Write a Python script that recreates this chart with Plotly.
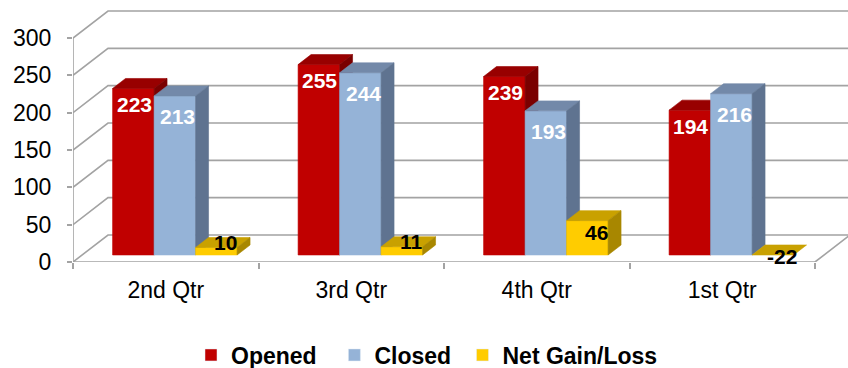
import plotly.graph_objects as go

# ---- data -------------------------------------------------------------
categories = ["2nd Qtr", "3rd Qtr", "4th Qtr", "1st Qtr"]
opened = [223, 255, 239, 194]
closed = [213, 244, 193, 216]
net_gain_loss = [10, 11, 46, -22]

series_names = ["Opened", "Closed", "Net Gain/Loss"]
value_ticks = [0, 50, 100, 150, 200, 250, 300]

# ---- styling ----------------------------------------------------------
FONT = "Arial, 'Liberation Sans', sans-serif"
GRID = "#a3a3a3"
front_colors = ["#C00000", "#95B3D7", "#FFCC00"]
top_colors = ["#980000", "#7389A9", "#C9A100"]
side_colors = ["#7A0000", "#5F7390", "#A88700"]
label_colors = ["white", "white", "black"]
label_drop = [16, 21, 17]          # px below the bar top for the value labels
label_nudge = [1, 3, 3]            # px to the right
legend_pad = [2, 1, 0]             # extra non-breaking spaces after each legend entry

# ---- geometry of the pseudo-3D box ------------------------------------
W, H = 848, 368
PLOT_L, PLOT_R = 73, 848          # plot area, pixels
PLOT_T, PLOT_B = 4, 262
CAT_PX = (815 - 73) / 4           # pixels per category
VAL_PX = (262 - 38) / 300         # pixels per value unit
X_MIN = -0.5
X_MAX = X_MIN + (PLOT_R - PLOT_L) / CAT_PX
Y_MAX = (PLOT_B - PLOT_T) / VAL_PX

DEPTH_DX = 35 / CAT_PX            # screen shift of the full box depth (x, data units)
DEPTH_DY = 27 / VAL_PX            # screen shift of the full box depth (y, data units)
BAR_D0, BAR_D1 = 0.26, 0.63       # depth slab occupied by the bars
BAR_W = 41.5 / CAT_PX             # bar width in category units


def proj(c, v, d):
    """Oblique projection of (category, value, depth) into the 2D axes."""
    return c + d * DEPTH_DX, v + d * DEPTH_DY


def add_poly(xs, ys, pts):
    for p in pts:
        xs.append(p[0])
        ys.append(p[1])
    xs.append(pts[0][0])
    ys.append(pts[0][1])
    xs.append(None)
    ys.append(None)


fig = go.Figure()

# ---- walls, floor and front axis line ---------------------------------
last_edge = len(categories) - 0.5
wx, wy = [], []
for v in value_ticks:
    for p in (proj(X_MIN, v, 0), proj(X_MIN, v, 1), proj(last_edge, v, 1)):
        wx.append(p[0])
        wy.append(p[1])
    wx.append(None)
    wy.append(None)
for p in (proj(X_MIN, 0, 0), proj(last_edge, 0, 0), proj(last_edge, 0, 1)):
    wx.append(p[0])
    wy.append(p[1])
wx.append(None)
wy.append(None)
for p in (proj(X_MIN, 0, 0), proj(X_MIN, value_ticks[-1], 0)):
    wx.append(p[0])
    wy.append(p[1])

fig.add_trace(go.Scatter(x=wx, y=wy, mode="lines", line=dict(color=GRID, width=1.6),
                         hoverinfo="skip", showlegend=False))

# ---- bars: front, top and side faces ----------------------------------
all_series = [opened, closed, net_gain_loss]
annotations = []
for s, values in enumerate(all_series):
    faces = {"front": ([], []), "top": ([], []), "side": ([], [])}
    for i, val in enumerate(values):
        xa = i + (s - 1.5) * BAR_W
        xb = xa + BAR_W
        vh = max(val, 0)
        if vh > 0:
            add_poly(*faces["front"], [proj(xa, 0, BAR_D0), proj(xb, 0, BAR_D0),
                                       proj(xb, vh, BAR_D0), proj(xa, vh, BAR_D0)])
            add_poly(*faces["side"], [proj(xb, 0, BAR_D0), proj(xb, 0, BAR_D1),
                                      proj(xb, vh, BAR_D1), proj(xb, vh, BAR_D0)])
        add_poly(*faces["top"], [proj(xa, vh, BAR_D0), proj(xb, vh, BAR_D0),
                                 proj(xb, vh, BAR_D1), proj(xa, vh, BAR_D1)])

        # value label: inside the top of tall bars, on the top face of short ones,
        # and just under the zero plane for negative values
        h_px = vh * VAL_PX
        if s < 2:
            lx, ly = proj(xa + BAR_W / 2, vh, BAR_D0)
            shift_y = -label_drop[s]
        else:
            lx, ly = proj(xa + BAR_W / 2, vh, (BAR_D0 + BAR_D1) / 2)
            shift_y = -min(label_drop[s], max(0, h_px - 10)) if val >= 0 else -7
        annotations.append(dict(
            x=lx, y=ly, xref="x", yref="y", text=f"<b>{val}</b>", showarrow=False,
            xshift=label_nudge[s], yshift=shift_y, xanchor="center", yanchor="middle",
            font=dict(family=FONT, size=21, color=label_colors[s])))

    for face, colors in (("front", front_colors), ("top", top_colors), ("side", side_colors)):
        fx, fy = faces[face]
        fig.add_trace(go.Scatter(x=fx, y=fy, mode="lines", fill="toself",
                                 fillcolor=colors[s], line=dict(color=colors[s], width=0.6),
                                 hoverinfo="skip", showlegend=False))

# legend entries
for s, name in enumerate(series_names):
    fig.add_trace(go.Bar(x=[None], y=[None], name=name + "\u00a0" * legend_pad[s],
                         marker_color=front_colors[s]))

fig.update_layout(
    width=W, height=H,
    margin=dict(l=PLOT_L, r=W - PLOT_R, t=PLOT_T, b=H - PLOT_B, pad=0, autoexpand=False),
    paper_bgcolor="white", plot_bgcolor="white",
    font=dict(family=FONT, size=23, color="black"),
    showlegend=True,
    legend=dict(orientation="h", x=(191 - PLOT_L) / (PLOT_R - PLOT_L), xanchor="left",
                y=-(355 - PLOT_B) / (PLOT_B - PLOT_T), yanchor="middle",
                font=dict(family=FONT, size=23, color="black", weight="bold"),
                bgcolor="rgba(0,0,0,0)"),
    xaxis=dict(range=[X_MIN, X_MAX], tickvals=list(range(len(categories))), ticktext=categories,
               ticks="", showgrid=False, zeroline=False, showline=False, automargin=False,
               tickfont=dict(family=FONT, size=23, color="black"), ticklabelstandoff=12,
               minor=dict(tickvals=[k - 0.5 for k in range(len(categories) + 1)], ticks="outside",
                          ticklen=6, tickcolor=GRID, tickwidth=1.6, showgrid=False),
               fixedrange=True),
    yaxis=dict(range=[0, Y_MAX], tickvals=value_ticks, ticks="outside", ticklen=5,
               tickcolor=GRID, tickwidth=1.6, showgrid=False, zeroline=False, showline=False,
               automargin=False,
               tickfont=dict(family=FONT, size=23, color="black"), ticklabelstandoff=11,
               fixedrange=True),
    annotations=annotations,
)

fig.write_html("out.html")
